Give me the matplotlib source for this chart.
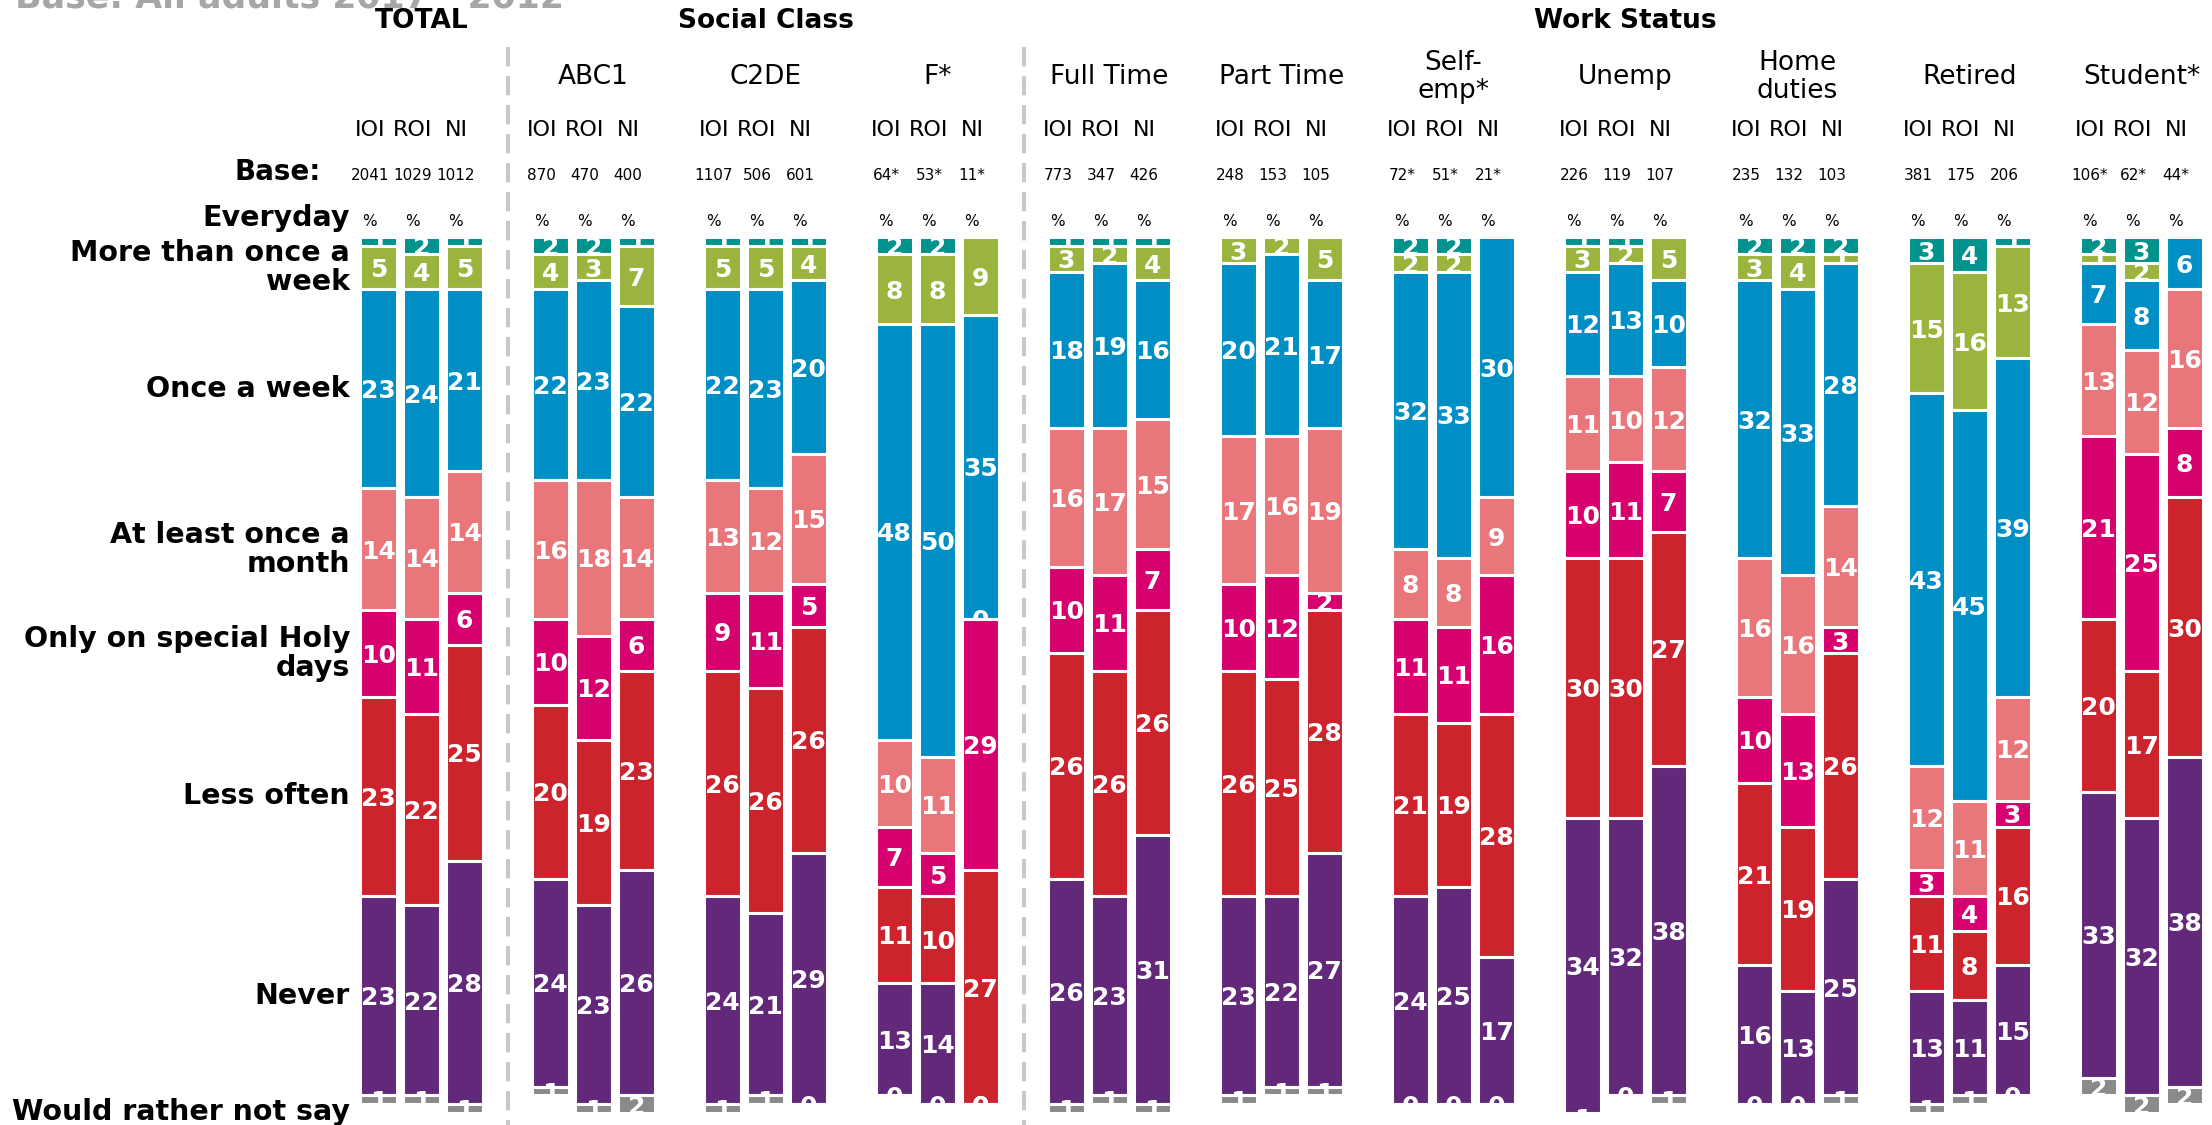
import matplotlib
matplotlib.use("Agg")
import matplotlib.pyplot as plt
import matplotlib.transforms as mtransforms
import numpy as np

# answer categories, stacked top to bottom
categories = ["Everyday", "More than once a\nweek", "Once a week",
              "At least once a\nmonth", "Only on special Holy\ndays",
              "Less often", "Never", "Would rather not say"]
colors = ["#00938d", "#9bb43d", "#008fc4", "#e8767b",
          "#d6006f", "#cc232c", "#62287a", "#8a8a8a"]

regions = ["IOI", "ROI", "NI"]
groups = ["TOTAL", "ABC1", "C2DE", "F*", "Full Time", "Part Time",
          "Self-\nemp*", "Unemp", "Home\nduties", "Retired", "Student*"]
sections = [("TOTAL", 0, 0), ("Social Class", 1, 3), ("Work Status", 4, 10)]

bases = [["2041", "1029", "1012"], ["870", "470", "400"], ["1107", "506", "601"],
         ["64*", "53*", "11*"], ["773", "347", "426"], ["248", "153", "105"],
         ["72*", "51*", "21*"], ["226", "119", "107"], ["235", "132", "103"],
         ["381", "175", "206"], ["106*", "62*", "44*"]]

# % per bar (IOI, ROI, NI), in category order
total = [[1, 5, 23, 14, 10, 23, 23, 1], [2, 4, 24, 14, 11, 22, 22, 1], [1, 5, 21, 14, 6, 25, 28, 1]]
abc1 = [[2, 4, 22, 16, 10, 20, 24, 1], [2, 3, 23, 18, 12, 19, 23, 1], [1, 7, 22, 14, 6, 23, 26, 2]]
c2de = [[1, 5, 22, 13, 9, 26, 24, 1], [1, 5, 23, 12, 11, 26, 21, 1], [1, 4, 20, 15, 5, 26, 29, 0]]
f_class = [[2, 8, 48, 10, 7, 11, 13, 0], [2, 8, 50, 11, 5, 10, 14, 0], [0, 9, 35, 0, 29, 27, 0, 0]]
full_time = [[1, 3, 18, 16, 10, 26, 26, 1], [1, 2, 19, 17, 11, 26, 23, 1], [1, 4, 16, 15, 7, 26, 31, 1]]
part_time = [[0, 3, 20, 17, 10, 26, 23, 1], [0, 2, 21, 16, 12, 25, 22, 1], [0, 5, 17, 19, 2, 28, 27, 1]]
self_emp = [[2, 2, 32, 8, 11, 21, 24, 0], [2, 2, 33, 8, 11, 19, 25, 0], [0, 0, 30, 9, 16, 28, 17, 0]]
unemp = [[1, 3, 12, 11, 10, 30, 34, 1], [1, 2, 13, 10, 11, 30, 32, 0], [0, 5, 10, 12, 7, 27, 38, 1]]
home_duties = [[2, 3, 32, 16, 10, 21, 16, 0], [2, 4, 33, 16, 13, 19, 13, 0], [2, 1, 28, 14, 3, 26, 25, 1]]
retired = [[3, 15, 43, 12, 3, 11, 13, 1], [4, 16, 45, 11, 4, 8, 11, 1], [1, 13, 39, 12, 3, 16, 15, 0]]
student = [[2, 1, 7, 13, 21, 20, 33, 2], [3, 2, 8, 12, 25, 17, 32, 2], [0, 0, 6, 16, 8, 30, 38, 2]]

values = np.array([total, abc1, c2de, f_class, full_time, part_time,
                   self_emp, unemp, home_duties, retired, student], dtype=float)

W, H = 2212, 1125
fig = plt.figure(figsize=(W / 100, H / 100), dpi=100)
ax = fig.add_axes([0, 0.0109, 1, 0.7784])
ax.set_xlim(-2.4506, 10.4099)
ax.set_ylim(101, 0)
ax.axis("off")

offsets = np.array([-0.25, 0.0, 0.25])
bar_w = 0.21
n_groups = len(groups)
xs = (np.arange(n_groups)[:, None] + offsets[None, :]).ravel()
flat = values.reshape(-1, len(categories))
bottoms = np.zeros(len(xs))

# each series' labels sit below the next series' bars
for k, cat in enumerate(categories):
    h = flat[:, k]
    ax.bar(xs, h, bottom=bottoms, width=bar_w, color=colors[k],
           edgecolor="white", linewidth=2.2, zorder=2 + 2 * k)
    for x, b, v in zip(xs, bottoms, h):
        ax.text(x, b + v / 2, f"{v:.0f}", ha="center", va="center_baseline",
                color="white", fontsize=18, fontweight="bold",
                zorder=3 + 2 * k, clip_on=True)
    bottoms += h

fy = lambda px: 1 - px / H
trans = mtransforms.blended_transform_factory(ax.transData, fig.transFigure)

# faded base line at the very top
fig.text(15 / W, fy(7), "Base: All adults 2017 - 2012", color="#a6a6a6",
         fontsize=25, fontweight="bold", ha="left", va="baseline")

for name, g0, g1 in sections:
    ax.text((g0 + g1) / 2, fy(21), name, transform=trans, ha="center",
            va="center", fontsize=19, fontweight="bold")

for g0 in [s[1] for s in sections[1:]]:
    ax.plot([g0 - 0.5, g0 - 0.5], [fy(47), 0], transform=trans, color="#c8c8c8",
            lw=2.9, dashes=(4.8, 2.4), clip_on=False, solid_capstyle="butt")

for g, name in enumerate(groups):
    if g > 0:
        ax.text(g, fy(77), name, transform=trans, ha="center", va="center",
                fontsize=19, linespacing=1.12)
    for r, reg in enumerate(regions):
        x = g + offsets[r] - 0.05
        ax.text(x, fy(130), reg, transform=trans, ha="center", va="center", fontsize=16)
        ax.text(x, fy(175), bases[g][r], transform=trans, ha="center", va="center", fontsize=11)
        ax.text(x, fy(222), "%", transform=trans, ha="center", va="center", fontsize=11)

ax.text(-0.585, fy(172), "Base:", transform=trans, ha="right", va="center",
        fontsize=20, fontweight="bold")

# row labels follow the TOTAL IOI bar
ref = values[0, 0]
label_y = np.cumsum(ref) - ref / 2
label_y[0] -= 2.7
label_y[-1] += 1.4
for cat, y in zip(categories, label_y):
    ax.text(-0.415, y, cat, ha="right", va="center", fontsize=20.5,
            fontweight="bold", clip_on=False, linespacing=1.05)

fig.savefig("out.png", dpi=100)
